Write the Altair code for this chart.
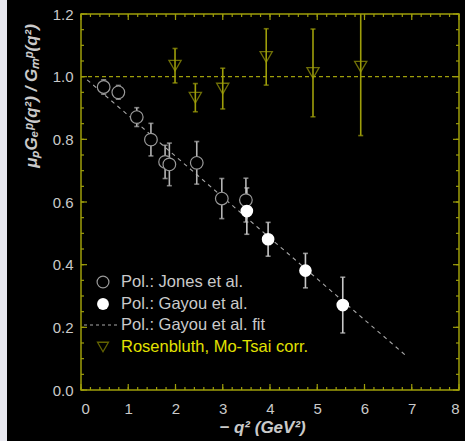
import altair as alt
import pandas as pd

# ---- data ----
jones_x = [0.48, 0.79, 1.18, 1.48, 1.78, 1.87, 2.45, 2.98, 3.49]
jones_y = [0.967, 0.950, 0.871, 0.799, 0.728, 0.720, 0.725, 0.611, 0.606]
jones_err = [0.023, 0.022, 0.030, 0.052, 0.053, 0.068, 0.068, 0.064, 0.070]

gayou_x = [3.51, 3.96, 4.75, 5.54]
gayou_y = [0.571, 0.481, 0.381, 0.271]
gayou_err = [0.074, 0.054, 0.055, 0.089]

ros_x = [1.99, 2.42, 3.00, 3.92, 4.91, 5.92]
ros_y = [1.035, 0.933, 0.962, 1.063, 1.012, 1.032]
ros_err = [0.055, 0.045, 0.065, 0.090, 0.140, 0.220]

fit_x = [0.13, 6.89]
fit_y = [0.99, 0.108]

unity_x = [0.0, 8.0]
unity_y = [1.0, 1.0]

legend_labels = ["Pol.: Jones et al.", "Pol.: Gayou et al.",
                 "Pol.: Gayou et al. fit", "Rosenbluth, Mo-Tsai corr."]

x_major = [0, 1, 2, 3, 4, 5, 6, 7, 8]
x_minor = [i / 5 for i in range(41)]
y_major = [0.0, 0.2, 0.4, 0.6, 0.8, 1.0, 1.2]
y_minor = [i / 20 for i in range(25)]

W, H = 378, 376
OLIVE = "#9e9e0a"
YELLOW = "#e2e200"
GRAY = "#cacaca"
FONT = "Liberation Sans"

xs = alt.Scale(domain=[0, 8], nice=False)
ys = alt.Scale(domain=[0, 1.2], nice=False)


def tbl(x, y, err=None):
    d = pd.DataFrame({"x": x, "y": y})
    if err is not None:
        d["lo"] = [a - b for a, b in zip(y, err)]
        d["hi"] = [a + b for a, b in zip(y, err)]
    return d


jones = tbl(jones_x, jones_y, jones_err)
gayou = tbl(gayou_x, gayou_y, gayou_err)
ros = tbl(ros_x, ros_y, ros_err)
fit = tbl(fit_x, fit_y)
unity = tbl(unity_x, unity_y)

X = alt.X("x:Q", scale=xs,
          axis=alt.Axis(values=x_major, format="d", ticks=False, domain=False, grid=False,
                        labelColor=GRAY, labelFontSize=15, labelFont=FONT, labelPadding=11,
                        title="− q² (GeV²)", titleColor=GRAY, titleFont=FONT, titleFontSize=17,
                        titleFontStyle="italic", titleFontWeight="bold", titlePadding=3,
                        titleX=181))
Y = alt.Y("y:Q", scale=ys,
          axis=alt.Axis(values=y_major, format=".1f", ticks=False, domain=False, grid=False,
                        labelColor=GRAY, labelFontSize=15, labelFont=FONT, labelPadding=8,
                        title=None))


def errbars(df, color, clip=False):
    bar = alt.Chart(df).mark_rule(color=color, strokeWidth=1.6, clip=clip).encode(
        x=alt.X("x:Q", scale=xs), y=alt.Y("lo:Q", scale=ys), y2="hi:Q")
    cap_lo = alt.Chart(df).mark_tick(color=color, orient="horizontal", size=5,
                                      thickness=1.6, clip=clip).encode(
        x=alt.X("x:Q", scale=xs), y=alt.Y("lo:Q", scale=ys))
    cap_hi = alt.Chart(df).mark_tick(color=color, orient="horizontal", size=5,
                                      thickness=1.6, clip=clip).encode(
        x=alt.X("x:Q", scale=xs), y=alt.Y("hi:Q", scale=ys))
    return [bar, cap_lo, cap_hi]


layers = []

# axis tick marks drawn inward on all four sides
def xticks(vals, length):
    d = pd.DataFrame({"x": vals})
    bottom = alt.Chart(d).mark_rule(color=OLIVE, strokeWidth=1.2).encode(
        x=alt.X("x:Q", scale=xs), y=alt.value(H), y2=alt.value(H - length))
    top = alt.Chart(d).mark_rule(color=OLIVE, strokeWidth=1.2).encode(
        x=alt.X("x:Q", scale=xs), y=alt.value(0), y2=alt.value(length))
    return [bottom, top]


def yticks(vals, length):
    d = pd.DataFrame({"y": vals})
    left = alt.Chart(d).mark_rule(color=OLIVE, strokeWidth=1.2).encode(
        y=alt.Y("y:Q", scale=ys), x=alt.value(0), x2=alt.value(length))
    right = alt.Chart(d).mark_rule(color=OLIVE, strokeWidth=1.2).encode(
        y=alt.Y("y:Q", scale=ys), x=alt.value(W), x2=alt.value(W - length))
    return [left, right]


base = alt.Chart(jones).mark_point(opacity=0).encode(x=X, y=Y)
layers.append(base)
layers += xticks(x_minor, 3) + xticks(x_major, 6) + yticks(y_minor, 3) + yticks(y_major, 6)

# reference line at 1 and fit line
layers.append(alt.Chart(unity).mark_line(color=OLIVE, strokeWidth=1.2, strokeDash=[4, 3]).encode(
    x=alt.X("x:Q", scale=xs), y=alt.Y("y:Q", scale=ys)))
layers.append(alt.Chart(fit).mark_line(color="#a8a8a8", strokeWidth=1.1, strokeDash=[4, 4]).encode(
    x=alt.X("x:Q", scale=xs), y=alt.Y("y:Q", scale=ys)))

# error bars
layers += errbars(ros, OLIVE, clip=True)
layers += errbars(jones, "#b4b4b4")
layers += errbars(gayou, "#c8c8c8")

# markers
layers.append(alt.Chart(ros).mark_point(shape="triangle-down", size=150, filled=False,
                                        color=OLIVE, strokeWidth=1.3).encode(
    x=alt.X("x:Q", scale=xs), y=alt.Y("y:Q", scale=ys)))
layers.append(alt.Chart(jones).mark_point(shape="circle", size=160, fill="black",
                                          stroke="#9a9a9a", strokeWidth=1.2, opacity=1).encode(
    x=alt.X("x:Q", scale=xs), y=alt.Y("y:Q", scale=ys)))
layers.append(alt.Chart(gayou).mark_point(shape="circle", size=160, filled=True,
                                          color="white", opacity=1).encode(
    x=alt.X("x:Q", scale=xs), y=alt.Y("y:Q", scale=ys)))

# legend (manual)
leg_rows = [268, 290, 311, 333]
sym_x, txt_x = 22, 40
one = pd.DataFrame({"k": [0]})
layers.append(alt.Chart(one).mark_point(shape="circle", size=140, fill="black",
                                        stroke="#9a9a9a", strokeWidth=1.2, opacity=1).encode(
    x=alt.value(sym_x), y=alt.value(leg_rows[0])))
layers.append(alt.Chart(one).mark_point(shape="circle", size=140, filled=True, color="white",
                                        opacity=1).encode(
    x=alt.value(sym_x), y=alt.value(leg_rows[1])))
layers.append(alt.Chart(one).mark_rule(color="#a8a8a8", strokeWidth=1.1, strokeDash=[3, 3]).encode(
    x=alt.value(3), x2=alt.value(37), y=alt.value(leg_rows[2])))
layers.append(alt.Chart(one).mark_point(shape="triangle-down", size=120, filled=False,
                                        color="#8c8c00", strokeWidth=1.3).encode(
    x=alt.value(sym_x), y=alt.value(leg_rows[3])))
for i, lab in enumerate(legend_labels):
    col = YELLOW if i == 3 else GRAY
    layers.append(alt.Chart(pd.DataFrame({"t": [lab]})).mark_text(
        align="left", baseline="middle", font=FONT, fontSize=16.5, color=col).encode(
        x=alt.value(txt_x), y=alt.value(leg_rows[i]), text="t:N"))

# y-axis title as rotated text
layers.append(alt.Chart(pd.DataFrame({"t": ["μₚGₑᵖ(q²) / Gₘᵖ(q²)"]})).mark_text(
    angle=270, align="center", baseline="middle", font=FONT, fontSize=17, fontStyle="italic",
    fontWeight="bold", color=GRAY).encode(
    x=alt.value(-49), y=alt.value(82), text="t:N"))

# light strip at the left edge of the page
layers.append(alt.Chart(one).mark_rect(color="#e9e9f0", clip=False).encode(
    x=alt.value(-81), x2=alt.value(-74), y=alt.value(-14), y2=alt.value(H + 51)))

chart = alt.layer(*layers).properties(
    width=W, height=H,
    autosize=alt.AutoSizeParams(type="none"),
    padding={"left": 81, "top": 14, "right": 6, "bottom": 51},
    background="black",
).configure_view(stroke=OLIVE, strokeWidth=1.5, fill="black")

chart.save("out.html", embed_options={"renderer": "svg", "actions": False})
